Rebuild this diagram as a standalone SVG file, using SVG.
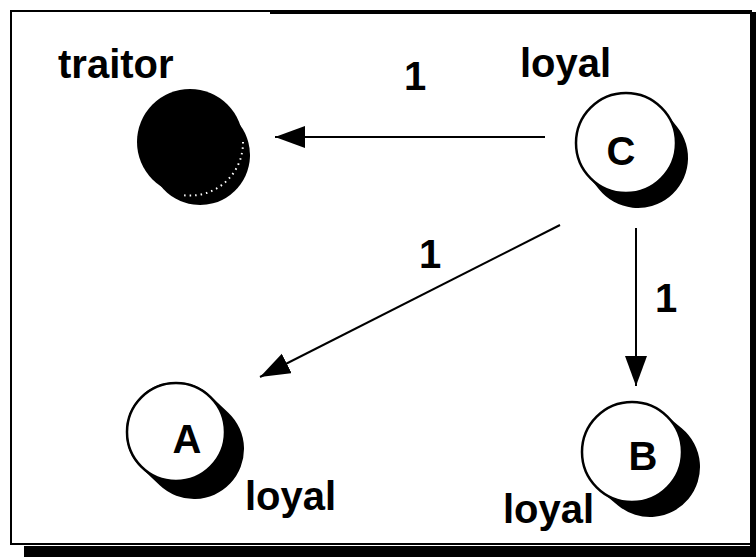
<svg xmlns="http://www.w3.org/2000/svg" width="756" height="557" viewBox="0 0 756 557">
  <style>
    .lbl { font-family: "Liberation Sans", Arial, sans-serif; font-weight: bold; font-size: 40px; fill: #000; }
    .mid { text-anchor: middle; }
    .edge { stroke: #000; stroke-width: 2; fill: none; marker-end: url(#head); }
    .disc { fill: #fff; stroke: #000; stroke-width: 2.5; }
    .rim { stroke: #000; stroke-linecap: round; stroke-width: 100; }
  </style>
  <defs>
    <marker id="head" markerUnits="userSpaceOnUse" markerWidth="32" markerHeight="24"
            refX="30" refY="11" orient="auto">
      <path d="M0,0 L30,11 L0,22 z" fill="#000"/>
    </marker>
  </defs>

  <rect width="756" height="557" fill="#fff"/>

  <!-- frame with drop shadow -->
  <g id="frame">
    <rect x="11" y="11" width="740" height="533" fill="none" stroke="#000" stroke-width="2"/>
    <line x1="270" y1="12" x2="752" y2="12" stroke="#000" stroke-width="4"/>
    <rect x="24" y="546" width="732" height="11" fill="#000"/>
    <rect x="750" y="12" width="6" height="545" fill="#000"/>
  </g>

  <!-- connectors -->
  <g id="connectors">
    <line class="edge" x1="545" y1="137" x2="275" y2="137"/>
    <line class="edge" x1="560" y1="225" x2="260" y2="377"/>
    <line class="edge" x1="636" y1="228" x2="636" y2="386"/>
    <text class="lbl mid" x="415" y="90">1</text>
    <text class="lbl mid" x="430" y="268">1</text>
    <text class="lbl mid" x="666" y="312">1</text>
  </g>

  <!-- traitor node -->
  <g id="node-traitor">
    <line class="rim" x1="190" y1="142" x2="200" y2="155" stroke-width="106"/>
    <circle cx="190" cy="142" r="53" fill="#000"/>
    <path d="M243,142 A53,53 0 0 1 182,195" fill="none" stroke="#fff" stroke-width="2" stroke-dasharray="1.5 4"/>
    <text class="lbl" x="58" y="78">traitor</text>
  </g>

  <!-- node C -->
  <g id="node-C">
    <line class="rim" x1="626" y1="143" x2="638" y2="158"/>
    <circle class="disc" cx="626" cy="143" r="50"/>
    <text class="lbl mid" x="621" y="165">C</text>
    <text class="lbl" x="520" y="77">loyal</text>
  </g>

  <!-- node A -->
  <g id="node-A">
    <line class="rim" x1="176" y1="432" x2="194" y2="449" stroke-width="98"/>
    <circle class="disc" cx="176" cy="432" r="49"/>
    <text class="lbl mid" x="187" y="453">A</text>
    <text class="lbl" x="245" y="510">loyal</text>
  </g>

  <!-- node B -->
  <g id="node-B">
    <line class="rim" x1="632" y1="452" x2="650" y2="467"/>
    <circle class="disc" cx="632" cy="452" r="50"/>
    <text class="lbl mid" x="643" y="470">B</text>
    <text class="lbl" x="503" y="523">loyal</text>
  </g>
</svg>
